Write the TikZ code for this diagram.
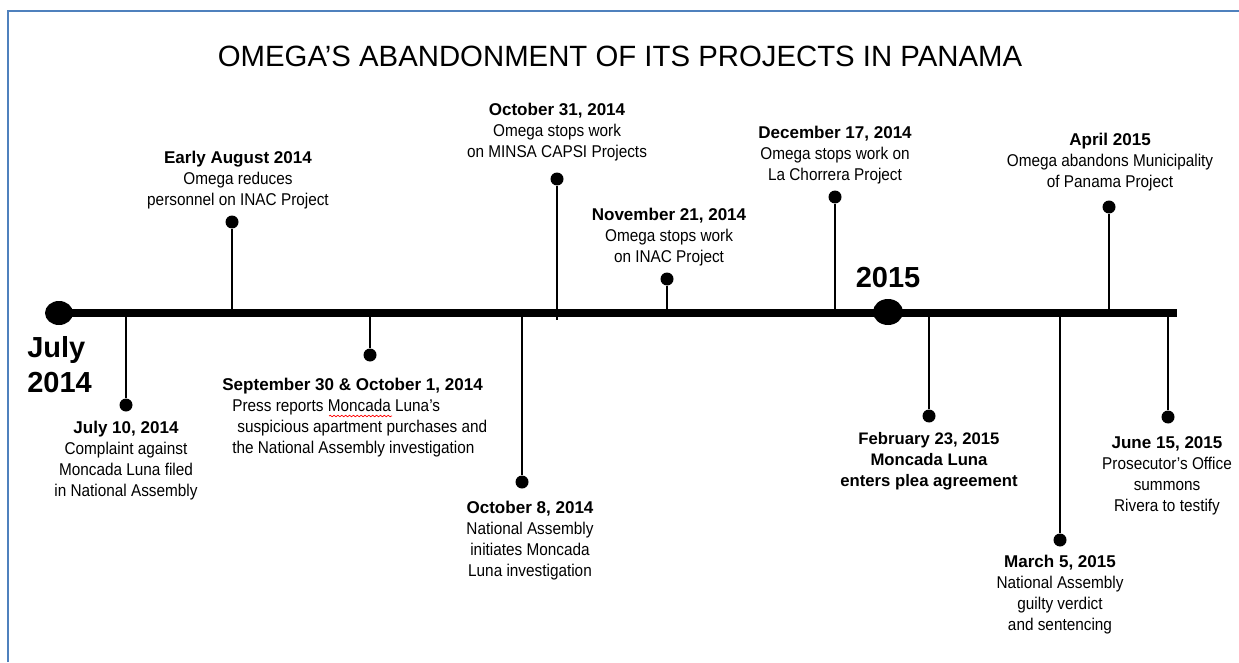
\documentclass[tikz,border=0pt]{standalone}
\usepackage{fontspec}
\setmainfont{Liberation Sans}
\newfontfamily\bodyfont[FakeStretch=0.9]{Liberation Sans}
\newcommand{\evdate}[1]{{\rmfamily\bfseries #1}}
\usetikzlibrary{shapes.geometric,decorations.pathmorphing}
\definecolor{frameblue}{RGB}{79,129,189}

\begin{document}
\begin{tikzpicture}[x=0.02cm,y=-0.02cm,
    evdot/.style={circle,fill=black,inner sep=0pt,minimum size=0.26cm},
    bigdot/.style={ellipse,fill=black,inner sep=0pt,minimum width=0.56cm,minimum height=0.48cm},
    stem/.style={line width=1.15pt},
    evtext/.style={align=center,inner sep=0pt,font=\bodyfont\fontsize{9.7}{11.95}\selectfont},
    yeartext/.style={inner sep=0pt,font=\bfseries\fontsize{16.5}{19.9}\selectfont}]
\useasboundingbox (0,0) rectangle (1239,662);
\draw[line width=1.4pt,frameblue] (8,662) -- (8,11) -- (1239,11);
\node[anchor=base,inner sep=0pt,font=\fontsize{16.7}{20}\selectfont] (title) at (620,67) {OMEGA’S ABANDONMENT OF ITS PROJECTS IN PANAMA};

% time line
\node[bigdot] (start) at (59,313) {};
\node[bigdot,minimum width=0.6cm,minimum height=0.52cm] (y2015) at (888,312) {};
\coordinate (tlend) at (1177,313);
\draw[line width=0.16cm] (start.center) -- (tlend);
\node[yeartext,anchor=north west,align=left] (julylbl) at (27,336) {July\\2014};
\node[yeartext,anchor=base] (lbl2015) at (888,287) {2015};

% events above the line
\node[evdot] (aug) at (232,222) {};
\coordinate (aug-on) at (232,313);
\draw[stem] (aug) -- (aug-on);
\node[evtext,anchor=north] (aug-txt) at (238,151) {\evdate{Early August 2014}\\Omega reduces\\personnel on INAC Project};

\node[evdot] (oct31) at (557,179) {};
\coordinate (oct31-on) at (557,320);
\draw[stem] (oct31) -- (oct31-on);
\node[evtext,anchor=north] (oct31-txt) at (557,103) {\evdate{October 31, 2014}\\Omega stops work\\on MINSA CAPSI Projects};

\node[evdot] (nov21) at (667,279) {};
\coordinate (nov21-on) at (667,313);
\draw[stem] (nov21) -- (nov21-on);
\node[evtext,anchor=north] (nov21-txt) at (669,208) {\evdate{November 21, 2014}\\Omega stops work\\on INAC Project};

\node[evdot] (dec17) at (835,197) {};
\coordinate (dec17-on) at (835,313);
\draw[stem] (dec17) -- (dec17-on);
\node[evtext,anchor=north] (dec17-txt) at (835,126) {\evdate{December 17, 2014}\\Omega stops work on\\La Chorrera Project};

\node[evdot] (apr) at (1109,207) {};
\coordinate (apr-on) at (1109,313);
\draw[stem] (apr) -- (apr-on);
\node[evtext,anchor=north] (apr-txt) at (1110,133) {\evdate{April 2015}\\Omega abandons Municipality\\of Panama Project};

% events below the line
\node[evdot] (jul10) at (126,405) {};
\coordinate (jul10-on) at (126,313);
\draw[stem] (jul10-on) -- (jul10);
\node[evtext,anchor=north] (jul10-txt) at (126,421) {\evdate{July 10, 2014}\\Complaint against\\Moncada Luna filed\\in National Assembly};

\node[evdot] (sep30) at (370,355) {};
\coordinate (sep30-on) at (370,313);
\draw[stem] (sep30-on) -- (sep30);
\node[evtext,align=left,anchor=north west] (sep30-txt) at (222,378) {\evdate{September 30 \& October 1, 2014}\\\hspace*{0.2cm}Press reports Moncada Luna’s\\\hspace*{0.3cm}suspicious apartment purchases and\\\hspace*{0.2cm}the National Assembly investigation};
\draw[red,line width=0.4pt,decorate,decoration={snake,amplitude=0.45pt,segment length=2.2pt}] (329,416) -- (392,416);

\node[evdot] (oct8) at (522,482) {};
\coordinate (oct8-on) at (522,313);
\draw[stem] (oct8-on) -- (oct8);
\node[evtext,anchor=north] (oct8-txt) at (530,501) {\evdate{October 8, 2014}\\National Assembly\\initiates Moncada\\Luna investigation};

\node[evdot] (feb23) at (929,416) {};
\coordinate (feb23-on) at (929,313);
\draw[stem] (feb23-on) -- (feb23);
\node[evtext,anchor=north,font=\bfseries\fontsize{9.5}{11.95}\selectfont] (feb23-txt) at (929,432) {February 23, 2015\\Moncada Luna\\enters plea agreement};

\node[evdot] (mar5) at (1060,540) {};
\coordinate (mar5-on) at (1060,313);
\draw[stem] (mar5-on) -- (mar5);
\node[evtext,anchor=north] (mar5-txt) at (1060,555) {\evdate{March 5, 2015}\\National Assembly\\guilty verdict\\and sentencing};

\node[evdot] (jun15) at (1168,417) {};
\coordinate (jun15-on) at (1168,313);
\draw[stem] (jun15-on) -- (jun15);
\node[evtext,anchor=north] (jun15-txt) at (1167,436) {\evdate{June 15, 2015}\\Prosecutor’s Office\\summons\\Rivera to testify};
\end{tikzpicture}
\end{document}
